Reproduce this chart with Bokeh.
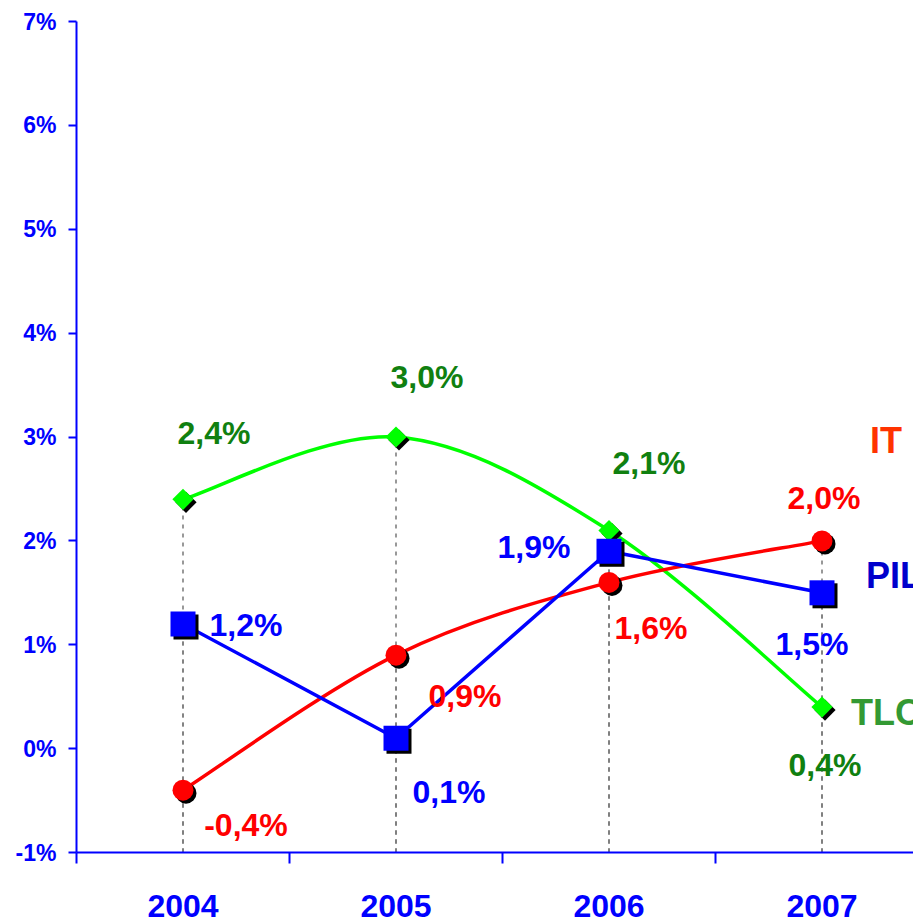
import numpy as np
from bokeh.plotting import figure
from bokeh.models import Range1d, FixedTicker, ColumnDataSource
from bokeh.core.properties import value
from bokeh.embed import file_html
from bokeh.resources import INLINE

# ---------------- data ----------------
years = ["2004", "2005", "2006", "2007"]
it_vals = [-0.4, 0.9, 1.6, 2.0]
pil_vals = [1.2, 0.1, 1.9, 1.5]
tlc_vals = [2.4, 3.0, 2.1, 0.4]
series_names = ["IT", "PIL", "TLC"]
y_ticks = [-1, 0, 1, 2, 3, 4, 5, 6, 7]
y_tick_labels = ["-1%", "0%", "1%", "2%", "3%", "4%", "5%", "6%", "7%"]


def fmt(v):
    return f"{v:.1f}".replace(".", ",") + "%"


FONT_NAME = "Liberation Sans"
FONT = value(FONT_NAME)
FRAME_W, FRAME_H = 837, 831
X_END = FRAME_W / 213.0
Y_START, Y_END = -1, 7

xs = [i + 0.5 for i in range(len(years))]
bounds = [float(i) for i in range(len(years) + 1)]

p = figure(
    output_backend="svg", toolbar_location=None,
    frame_width=FRAME_W, frame_height=FRAME_H,
    x_range=Range1d(0, X_END), y_range=Range1d(Y_START, Y_END),
    min_border_left=76, min_border_top=21, min_border_right=0, min_border_bottom=0,
    background_fill_color="white", border_fill_color="white",
)
p.outline_line_color = None
p.grid.visible = False

# y axis
ya = p.yaxis[0]
ya.ticker = FixedTicker(ticks=y_ticks, minor_ticks=[])
ya.major_label_overrides = {t: l for t, l in zip(y_ticks, y_tick_labels)}
ya.axis_line_color = "#0000FF"
ya.axis_line_width = 2
ya.major_tick_line_color = "#0000FF"
ya.major_tick_line_width = 2
ya.major_tick_out = 8
ya.major_tick_in = 0
ya.minor_tick_line_color = None
ya.major_label_standoff = 12
ya.major_label_text_font = FONT_NAME
ya.major_label_text_font_style = "bold"
ya.major_label_text_font_size = "23px"
ya.major_label_text_color = "#0000FF"

# x axis
xa = p.xaxis[0]
xa.ticker = FixedTicker(ticks=xs, minor_ticks=bounds)
xa.major_label_overrides = {x: y for x, y in zip(xs, years)}
xa.axis_line_color = "#0000FF"
xa.axis_line_width = 2
xa.major_tick_line_color = None
xa.major_tick_out = 0
xa.major_tick_in = 0
xa.minor_tick_line_color = "#0000FF"
xa.minor_tick_line_width = 2
xa.minor_tick_out = 11
xa.minor_tick_in = 0
xa.major_label_standoff = 31
xa.major_label_text_font = FONT_NAME
xa.major_label_text_font_style = "bold"
xa.major_label_text_font_size = "32px"
xa.major_label_text_color = "#0000FF"

# drop lines (drawn from the axis upward so the dash patterns line up)
for vals in (tlc_vals, pil_vals, it_vals):
    p.segment(x0=xs, y0=[Y_START] * len(xs), x1=xs, y1=vals,
              line_color="#7F7F7F", line_width=1.6, line_dash="4 5")


def smooth(vals):
    n = len(vals)
    pts = list(zip(xs, vals))
    x0, y0, x1, y1, cx0, cy0, cx1, cy1 = [], [], [], [], [], [], [], []
    for i in range(n - 1):
        pm = pts[max(i - 1, 0)]
        p0 = pts[i]
        p1 = pts[i + 1]
        p2 = pts[min(i + 2, n - 1)]
        x0.append(p0[0]); y0.append(p0[1])
        x1.append(p1[0]); y1.append(p1[1])
        cx0.append(p0[0] + (p1[0] - pm[0]) / 6); cy0.append(p0[1] + (p1[1] - pm[1]) / 6)
        cx1.append(p1[0] - (p2[0] - p0[0]) / 6); cy1.append(p1[1] - (p2[1] - p0[1]) / 6)
    return dict(x0=x0, y0=y0, x1=x1, y1=y1, cx0=cx0, cy0=cy0, cx1=cx1, cy1=cy1)


# lines
p.bezier(source=ColumnDataSource(smooth(tlc_vals)), x0="x0", y0="y0", x1="x1", y1="y1",
         cx0="cx0", cy0="cy0", cx1="cx1", cy1="cy1", line_color="#00FF00", line_width=3.5)
p.bezier(source=ColumnDataSource(smooth(it_vals)), x0="x0", y0="y0", x1="x1", y1="y1",
         cx0="cx0", cy0="cy0", cx1="cx1", cy1="cy1", line_color="#FF0000", line_width=3.5)
p.line(xs, pil_vals, line_color="#0000FF", line_width=3.5)

# markers with shadow
dx = 3 * X_END / FRAME_W
dy = -3 * (Y_END - Y_START) / FRAME_H
sx = [x + dx for x in xs]
p.scatter(sx, [v + dy for v in tlc_vals], marker="square", angle=np.pi / 4,
          size=15, fill_color="black", line_color=None)
p.scatter(xs, tlc_vals, marker="square", angle=np.pi / 4, size=15,
          fill_color="#00FF00", line_color=None)
p.scatter(sx, [v + dy for v in it_vals], marker="circle", size=21,
          fill_color="black", line_color=None)
p.scatter(xs, it_vals, marker="circle", size=21, fill_color="#FF0000", line_color=None)
p.scatter(sx, [v + dy for v in pil_vals], marker="square", size=25,
          fill_color="black", line_color=None)
p.scatter(xs, pil_vals, marker="square", size=25, fill_color="#0000FF", line_color=None)

# data labels (offsets in screen px)
tlc_off = ([31, 31, 40, 3], [-66, -60, -67, 58])
it_off = ([63, 69, 42, 2], [35, 41, 46, -43])
pil_off = ([63, 53, -75, -10], [1, 54, -4, 51])
for vals, off, col in ((tlc_vals, tlc_off, "#108010"), (it_vals, it_off, "#FF0000"),
                       (pil_vals, pil_off, "#0000FF")):
    src = ColumnDataSource(dict(x=xs, y=vals, t=[fmt(v) for v in vals],
                                xo=off[0], yo=off[1]))
    p.text(x="x", y="y", text="t", x_offset="xo", y_offset="yo", source=src,
           text_align="center", text_baseline="middle", text_font=FONT,
           text_font_style="bold", text_font_size="32px", text_color=col)

# series names
name_src = ColumnDataSource(dict(
    x=[xs[-1]] * 3, y=[it_vals[-1], pil_vals[-1], tlc_vals[-1]], t=series_names,
    xo=[48, 44, 29], yo=[-100, -17, 5], c=["#FF3300", "#0000CC", "#339933"]))
p.text(x="x", y="y", text="t", x_offset="xo", y_offset="yo", source=name_src,
       text_align="left", text_baseline="middle", text_font=FONT,
       text_font_style="bold", text_font_size="36px", text_color="c")

open("out.html", "w").write(file_html(p, INLINE))
